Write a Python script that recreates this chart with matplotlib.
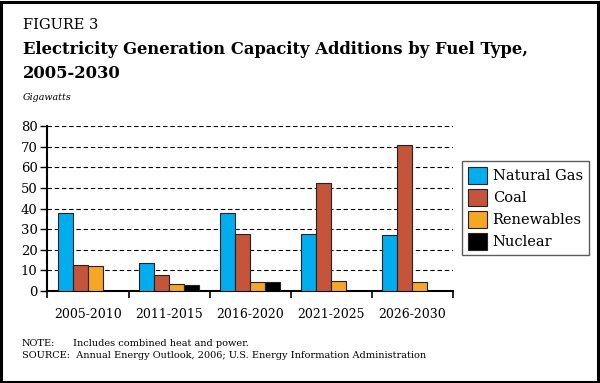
import matplotlib
matplotlib.use("Agg")
import matplotlib.pyplot as plt
import numpy as np
from matplotlib.patches import Rectangle

periods = ["2005-2010", "2011-2015", "2016-2020", "2021-2025", "2026-2030"]
natural_gas = [38, 13.8, 38, 27.5, 27]
coal = [12.5, 7.8, 27.6, 52.3, 71]
renewables = [12, 3.5, 4.2, 4.9, 4.2]
nuclear = [0, 2.8, 4.2, 0, 0]
series_names = ["Natural Gas", "Coal", "Renewables", "Nuclear"]
colors = ["#00AEEF", "#C4553A", "#F5A623", "#000000"]
yticks = [0, 10, 20, 30, 40, 50, 60, 70, 80]

plt.rcParams['font.family'] = ['DejaVu Serif']

fig = plt.figure(figsize=(6, 3.83), dpi=100)
ax = fig.add_axes([0.079, 0.240, 0.676, 0.431])

x = np.arange(len(periods))
w = 0.185
series = [natural_gas, coal, renewables, nuclear]
for i, (vals, name, c) in enumerate(zip(series, series_names, colors)):
    ax.bar(x + (i - 1.5) * w, vals, w, color=c, edgecolor="#222222",
           linewidth=0.8, label=name, zorder=3)

ax.set_xlim(-0.5, len(periods) - 0.5)
ax.set_ylim(0, 80)
ax.set_yticks(yticks)
ax.set_yticklabels([str(v) for v in yticks], fontsize=9.5)
ax.set_xticks(x)
ax.set_xticklabels(periods, fontsize=9)
ax.set_xticks(np.arange(-0.5, len(periods)), minor=True)
ax.tick_params(axis="x", which="major", length=0, pad=12)
ax.tick_params(axis="x", which="minor", length=5, width=1.2, direction="out")
ax.tick_params(axis="y", length=5, width=1.0, direction="out", pad=2)
ax.yaxis.grid(True, linestyle=(0, (4, 2.5)), color="black", linewidth=0.8, zorder=0)
for s in ["top", "right"]:
    ax.spines[s].set_visible(False)
ax.spines["left"].set_linewidth(1.5)
ax.spines["bottom"].set_linewidth(1.5)

leg = ax.legend(loc="upper left", bbox_to_anchor=(462/600, 1 - 161/383), bbox_transform=fig.transFigure,
                fontsize=10.5, frameon=True, fancybox=False, edgecolor="#333333",
                handlelength=1.3, handleheight=1.4, handletextpad=0.4,
                labelspacing=0.35, borderpad=0.4, borderaxespad=0)
leg.get_frame().set_linewidth(1.0)

fig.text(23/600, 1 - 25/383, "FIGURE 3", fontsize=10.5, va="center", ha="left")
fig.text(23/600, 1 - 49/383, "Electricity Generation Capacity Additions by Fuel Type,",
         fontsize=11.8, fontweight="bold", va="center", ha="left")
fig.text(23/600, 1 - 73/383, "2005-2030", fontsize=11.8, fontweight="bold", va="center", ha="left")
fig.text(23/600, 1 - 97/383, "Gigawatts", fontsize=6.8, style="italic", va="center", ha="left")

fig.text(22/600, 1 - 343/383, "NOTE:", fontsize=7, va="center", ha="left")
fig.text(73/600, 1 - 343/383, "Includes combined heat and power.", fontsize=7, va="center", ha="left")
fig.text(22/600, 1 - 356/383, "SOURCE:  Annual Energy Outlook, 2006; U.S. Energy Information Administration",
         fontsize=7, va="center", ha="left")

fig.patches.append(Rectangle((0.002, 0.003), 0.995, 0.993, transform=fig.transFigure,
                             fill=False, edgecolor="black", linewidth=2.2))

fig.savefig("out.png", dpi=100)
